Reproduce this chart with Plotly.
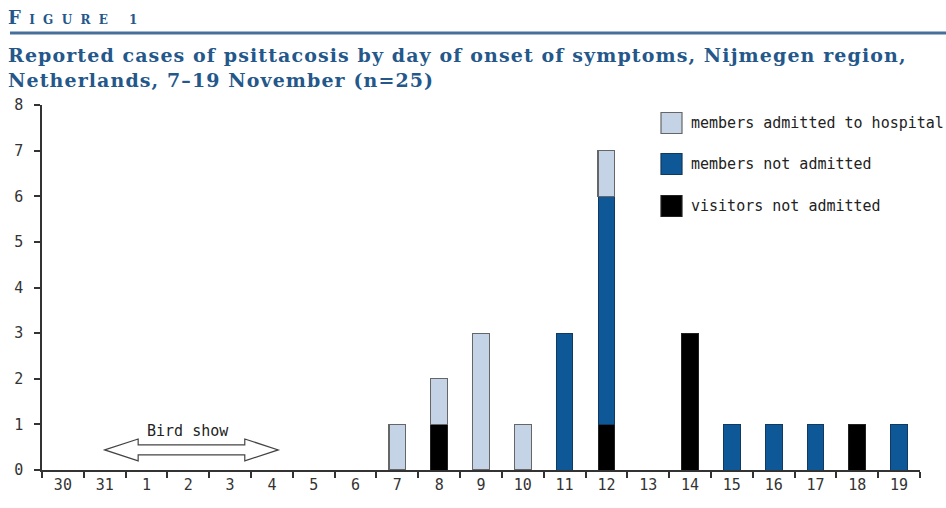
import plotly.graph_objects as go

# ---------------- data ----------------
days = ["30", "31", "1", "2", "3", "4", "5", "6", "7", "8", "9", "10",
        "11", "12", "13", "14", "15", "16", "17", "18", "19"]
hospital = [None, None, None, None, None, None, None, None, 1, 1, 3, 1,
            None, 1, None, None, None, None, None, None, None]
not_admitted = [None, None, None, None, None, None, None, None, None, None, None, None,
                3, 5, None, None, 1, 1, 1, None, 1]
visitors = [None, None, None, None, None, None, None, None, None, 1, None, None,
            None, 1, None, 3, None, None, None, 1, None]
series_names = ["members admitted to hospital", "members not admitted", "visitors not admitted"]
y_ticks = [0, 1, 2, 3, 4, 5, 6, 7, 8]

# ---------------- style ----------------
C_LIGHT = "#c4d3e6"
C_BLUE = "#0f5898"
C_BLACK = "#000000"
C_TITLE = "#24578a"
AX = "#333333"
TICKFONT = "DejaVu Sans Mono"
SERIF = "DejaVu Serif"

W, H = 946, 508
L, R, T, B = 42, 26, 105, 38
PW, PH = W - L - R, H - T - B


def px(xw):
    return (xw - L) / PW


def py(yw):
    return (H - B - yw) / PH


xpos = list(range(len(days)))

fig = go.Figure()
fig.add_bar(x=xpos, y=visitors, name=series_names[2], marker_color=C_BLACK,
            marker_line=dict(color="#222222", width=1), width=0.4, showlegend=False)
fig.add_bar(x=xpos, y=not_admitted, name=series_names[1], marker_color=C_BLUE,
            marker_line=dict(color="#123a60", width=1), width=0.4, showlegend=False)
fig.add_bar(x=xpos, y=hospital, name=series_names[0], marker_color=C_LIGHT,
            marker_line=dict(color="#666666", width=1.2), width=0.4, showlegend=False)

fig.update_layout(
    width=W, height=H, barmode="stack",
    margin=dict(l=L, r=R, t=T, b=B, pad=0),
    plot_bgcolor="white", paper_bgcolor="white",
    xaxis=dict(range=[-0.5, len(days) - 0.5], tickmode="array", tickvals=xpos, ticktext=days,
               ticks="", showgrid=False, zeroline=False, showline=True, linecolor=AX, linewidth=1.5,
               tickfont=dict(family=TICKFONT, size=15, color="#333"),
               minor=dict(tickmode="array", tickvals=[i - 0.5 for i in range(len(days) + 1)],
                          ticks="outside", ticklen=6, tickcolor=AX, tickwidth=1.5, showgrid=False)),
    yaxis=dict(range=[0, 8], tickmode="array", tickvals=y_ticks, ticks="outside", ticklen=6,
               tickcolor=AX, tickwidth=1.5, showgrid=False, zeroline=False, showline=True,
               linecolor=AX, linewidth=1.5, ticklabelstandoff=8,
               tickfont=dict(family=TICKFONT, size=15, color="#333")),
    font=dict(family=TICKFONT),
)

shapes = []
annotations = []

# header
sp = "\u00a0"
small = (sp * 2).join(list("IGURE"))
annotations.append(dict(xref="paper", yref="paper", x=px(6), y=py(17), xanchor="left", yanchor="middle",
                        showarrow=False,
                        text=f"<b>F<span style='font-size:12px'>{sp*2}{small}{sp*5}1</span></b>",
                        font=dict(family=SERIF, size=18, color=C_TITLE)))
shapes.append(dict(type="line", xref="paper", yref="paper", x0=px(10), x1=px(946), y0=py(33), y1=py(33),
                   line=dict(color="#46709a", width=3)))
title_lines = ["Reported cases of psittacosis by day of onset of symptoms, Nijmegen region,",
               "Netherlands, 7\u201319 November (n=25)"]
title_text = "<br>".join(f"<b><span style='letter-spacing:1.1px'>{t}</span></b>" for t in title_lines)
annotations.append(dict(xref="paper", yref="paper", x=px(6), y=py(67), xanchor="left", yanchor="middle",
                        showarrow=False, align="left", text=title_text,
                        font=dict(family=SERIF, size=19, color=C_TITLE)))

# legend (drawn manually with large swatches)
leg_colors = [C_LIGHT, C_BLUE, C_BLACK]
leg_lines = ["#666666", "#123a60", "#222222"]
leg_y = [123, 164, 206]
for name, col, lc, yc in zip(series_names, leg_colors, leg_lines, leg_y):
    shapes.append(dict(type="rect", xref="paper", yref="paper", x0=px(661), x1=px(682),
                       y0=py(yc - 10.5), y1=py(yc + 10.5), fillcolor=col, line=dict(color=lc, width=1.2)))
    annotations.append(dict(xref="paper", yref="paper", x=px(689), y=py(yc), xanchor="left",
                            yanchor="middle", showarrow=False, text=name,
                            font=dict(family=TICKFONT, size=15, color="#222")))

# Bird show double arrow (hollow)
x_a, x_b = 1.0, 5.15
hl = 0.8
yc, hh, sh = 0.44, 0.24, 0.11
path = (f"M {x_a},{yc} L {x_a+hl},{yc+hh} L {x_a+hl},{yc+sh} L {x_b-hl},{yc+sh} L {x_b-hl},{yc+hh} "
        f"L {x_b},{yc} L {x_b-hl},{yc-hh} L {x_b-hl},{yc-sh} L {x_a+hl},{yc-sh} L {x_a+hl},{yc-hh} Z")
shapes.append(dict(type="path", xref="x", yref="y", path=path, line=dict(color="#444", width=1.2),
                   fillcolor="white"))
annotations.append(dict(xref="x", yref="y", x=3.0, y=0.86, showarrow=False, text="Bird show",
                        font=dict(family=TICKFONT, size=15, color="#222")))

fig.update_layout(shapes=shapes, annotations=annotations)
fig.write_html("out.html", config={"displayModeBar": False},
               post_script="document.body.style.margin='0';document.body.style.overflow='hidden';")
